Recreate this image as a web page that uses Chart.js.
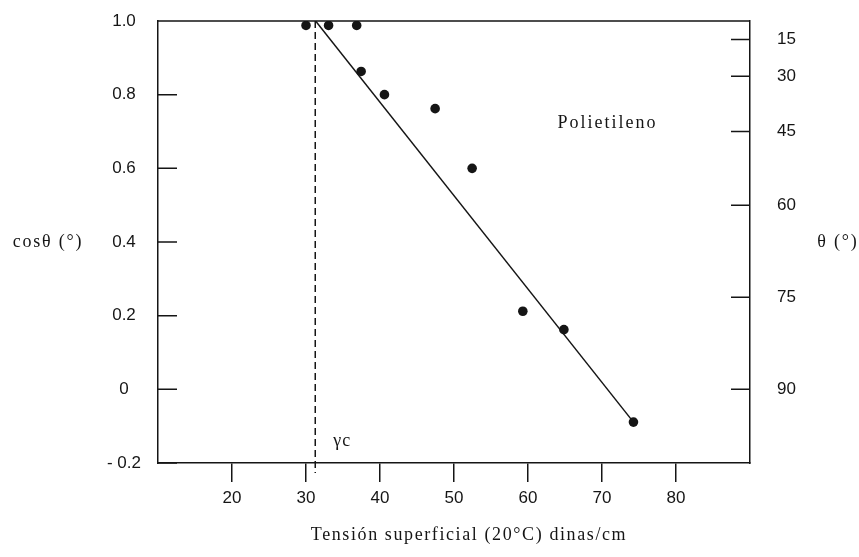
<!DOCTYPE html>
<html><head><meta charset="utf-8">
<script src="https://cdn.jsdelivr.net/npm/chart.js@4.4.1/dist/chart.umd.min.js"></script>
<style>html,body{margin:0;padding:0;background:#fff;}canvas{display:block;}</style>
</head><body>
<canvas id="c" width="859" height="557"></canvas>
<script>
// ---- data ----
const tension = [30.0, 33.05, 36.85, 37.45, 40.6, 47.45, 52.45, 59.3, 64.85, 74.25];
const cosTheta = [0.988, 0.988, 0.988, 0.863, 0.800, 0.762, 0.600, 0.212, 0.162, -0.089];
const fitX = [31.3, 74.25];
const fitY = [1.0, -0.089];
const gammaC = 31.25;
const gammaLineY = [1.0, -0.227];
const xTicks = [20, 30, 40, 50, 60, 70, 80];
const yTicks = [-0.2, 0, 0.2, 0.4, 0.6, 0.8, 1.0];
const yTickLabels = ['- 0.2', '0', '0.2', '0.4', '0.6', '0.8', '1.0'];
const thetaTickPos = [0.95, 0.85, 0.70, 0.50, 0.25, 0.0];
const thetaTickLabels = ['15', '30', '45', '60', '75', '90'];
const xTitle = 'Tensión superficial (20°C) dinas/cm';
const yTitle = 'cosθ (°)';
const y2Title = 'θ (°)';
const seriesLabel = 'Polietileno';
const seriesLabelAt = [64.0, 0.722];
const gammaLabel = 'γc';
const gammaLabelAt = [34.9, -0.141];

const INK = '#151515';

const annot = {
  id: 'annot',
  afterDraw(chart) {
    const {ctx, chartArea: a, scales: {x, y}} = chart;
    ctx.save();
    ctx.strokeStyle = INK; ctx.lineWidth = 1.5;
    ctx.beginPath();
    ctx.moveTo(a.left, a.top); ctx.lineTo(a.right, a.top);
    yTicks.forEach(v => { const p = y.getPixelForValue(v); ctx.moveTo(a.left, p); ctx.lineTo(a.left + 19, p); });
    thetaTickPos.forEach(v => { const p = y.getPixelForValue(v); ctx.moveTo(a.right, p); ctx.lineTo(a.right - 19, p); });
    ctx.stroke();

    ctx.fillStyle = INK;
    ctx.font = '18px "Liberation Serif"';
    ctx.letterSpacing = '2px';
    ctx.textBaseline = 'middle';
    ctx.textAlign = 'left';
    ctx.fillText(seriesLabel, x.getPixelForValue(seriesLabelAt[0]), y.getPixelForValue(seriesLabelAt[1]));
    ctx.letterSpacing = '1px';
    ctx.textAlign = 'center';
    ctx.fillText(gammaLabel, x.getPixelForValue(gammaLabelAt[0]), y.getPixelForValue(gammaLabelAt[1]));
    ctx.letterSpacing = '1.8px';
    const midY = (a.top + a.bottom) / 2;
    ctx.fillText(yTitle, 48, midY);
    ctx.fillText(y2Title, 838, midY);
    ctx.letterSpacing = '1.6px';
    ctx.fillText(xTitle, 469, 535);
    ctx.restore();
  }
};

const fitVertical = (w) => (s) => { s.width = w; s.paddingTop = 0; s.paddingBottom = 0; };

new Chart(document.getElementById('c'), {
  type: 'scatter',
  data: {
    datasets: [
      {
        data: tension.map((t, i) => ({x: t, y: cosTheta[i]})),
        pointRadius: 4.8, pointBackgroundColor: INK, pointBorderWidth: 0, showLine: false
      },
      {
        data: fitX.map((t, i) => ({x: t, y: fitY[i]})),
        showLine: true, borderColor: INK, borderWidth: 1.5, pointRadius: 0
      },
      {
        data: gammaLineY.map(v => ({x: gammaC, y: v})),
        showLine: true, borderColor: INK, borderWidth: 1.5, borderDash: [7, 4], pointRadius: 0,
        clip: false
      }
    ]
  },
  options: {
    responsive: false, animation: false, devicePixelRatio: 1,
    layout: {padding: {top: 21, left: 0, right: 0, bottom: 0}},
    plugins: {legend: {display: false}, tooltip: {enabled: false}},
    scales: {
      x: {
        type: 'linear', min: 10, max: 90,
        afterBuildTicks: s => { s.ticks = xTicks.map(v => ({value: v})); },
        afterFit: s => { s.height = 94; s.paddingLeft = 0; s.paddingRight = 0; },
        grid: {drawOnChartArea: false, drawTicks: true, tickLength: 19, color: INK, lineWidth: 1.5},
        border: {display: true, color: INK, width: 1.5},
        ticks: {color: INK, font: {family: '"Liberation Sans"', size: 17}, padding: 6, maxRotation: 0}
      },
      y: {
        type: 'linear', position: 'left', min: -0.2, max: 1.0,
        afterBuildTicks: s => { s.ticks = yTicks.map(v => ({value: v})); },
        afterFit: fitVertical(158),
        grid: {display: false},
        border: {display: true, color: INK, width: 1.5},
        ticks: {color: INK, font: {family: '"Liberation Sans"', size: 17}, padding: 9, crossAlign: 'center',
          callback: (v, i) => yTickLabels[i]}
      },
      y2: {
        type: 'linear', position: 'right', min: -0.2, max: 1.0,
        afterBuildTicks: s => { s.ticks = thetaTickPos.map(v => ({value: v})); },
        afterFit: fitVertical(109),
        grid: {display: false},
        border: {display: true, color: INK, width: 1.5},
        ticks: {color: INK, font: {family: '"Liberation Sans"', size: 17}, padding: 19, crossAlign: 'near',
          callback: (v, i) => thetaTickLabels[i]}
      }
    }
  },
  plugins: [annot]
});
</script>
</body></html>
